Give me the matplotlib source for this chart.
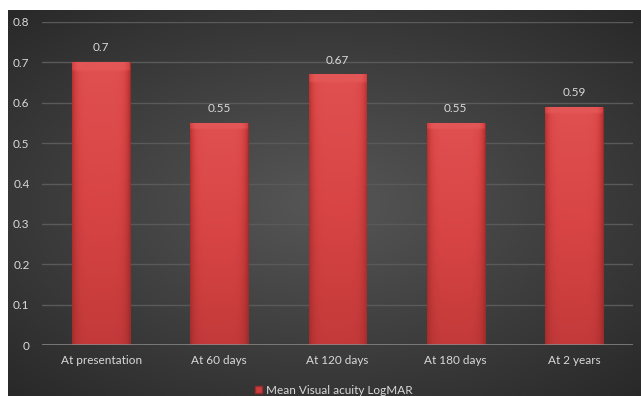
import numpy as np
import matplotlib
matplotlib.use("Agg")
import matplotlib.pyplot as plt
from matplotlib.colors import LinearSegmentedColormap
from matplotlib.patches import Patch

categories = ["At presentation", "At 60 days", "At 120 days", "At 180 days", "At 2 years"]
values = [0.7, 0.55, 0.67, 0.55, 0.59]
value_labels = ["0.7", "0.55", "0.67", "0.55", "0.59"]
yticks = [0, 0.1, 0.2, 0.3, 0.4, 0.5, 0.6, 0.7, 0.8]
ytick_labels = ["0", "0.1", "0.2", "0.3", "0.4", "0.5", "0.6", "0.7", "0.8"]
series_name = "Mean Visual acuity LogMAR"

W, H = 641, 396
fig = plt.figure(figsize=(W / 100, H / 100), dpi=100, facecolor="white")
plt.rcParams["font.family"] = ["Lato", "DejaVu Sans"]
text_color = "#d9d9d9"

# dark radial-gradient chart area
bg = fig.add_axes([8 / W, 0, 1 - 8 / W, (H - 10) / H])
bg.set_axis_off()
yy, xx = np.mgrid[-1:1:200j, -1:1:320j]
r = np.sqrt((xx * 0.95) ** 2 + yy ** 2)
shade = np.clip(0.34 - 0.13 * r, 0.12, 0.36)
bg.imshow(shade, cmap="gray", vmin=0, vmax=1, aspect="auto", extent=[0, 1, 0, 1],
          interpolation="bicubic")
bg.set_xlim(0, 1)
bg.set_ylim(0, 1)

ax = fig.add_axes([42 / W, 51 / H, (633 - 42) / W, (374 - 51) / H])
ax.set_facecolor("none")

for s in ax.spines.values():
    s.set_visible(False)
ax.set_yticks(yticks)
ax.set_yticklabels(ytick_labels)
ax.set_xticks(range(len(categories)))
ax.set_xticklabels(categories)
ax.tick_params(axis="both", length=0, colors=text_color, labelsize=8.5)
ax.tick_params(axis="y", pad=9)
ax.tick_params(axis="x", pad=7)

for y in yticks[1:]:
    ax.axhline(y, color="#5a5a5a", lw=1.0, zorder=1)
ax.axhline(0, color="#8c8c8c", lw=1.8, zorder=4)

bar_cmap = LinearSegmentedColormap.from_list(
    "barred", ["#8f2727", "#b83434", "#d84444", "#e45656"])
bw = 0.49
bars = ax.bar(range(len(values)), values, width=bw, color="#cc3d3d",
              edgecolor="#9a2c2c", linewidth=0.8, zorder=3)

# shaded fill inside each bar: darker sides and bottom, light bevel on top
gx = np.linspace(-1, 1, 60)
gy = np.linspace(0, 1, 100)[:, None]
edge = 1 - np.abs(gx)[None, :] ** 6
for b, v in zip(bars, values):
    img = (0.45 + 0.45 * gy) * (0.35 + 0.65 * edge)
    img[-3:, :] = np.minimum(img[-3:, :] + 0.25, 1)
    x0 = b.get_x()
    im = ax.imshow(img, cmap=bar_cmap, vmin=0, vmax=1, origin="lower",
                   extent=[x0, x0 + bw, 0, v], aspect="auto", zorder=3,
                   interpolation="bilinear")
    im.set_clip_path(b)

for i, (v, lab) in enumerate(zip(values, value_labels)):
    ax.text(i, v + 0.022, lab, ha="center", va="bottom", color=text_color,
            fontsize=8.5, zorder=5)

ax.set_xlim(-0.5, len(categories) - 0.5)
ax.set_ylim(0, 0.8)

fig.legend(handles=[Patch(facecolor="#cc3d3d", edgecolor="#9a2c2c", label=series_name)],
           loc="center", bbox_to_anchor=(334 / W, 1 - 390 / H), frameon=False,
           fontsize=8.5, handlelength=0.6, handleheight=0.6, handletextpad=0.3,
           labelcolor=text_color, borderpad=0)

fig.savefig("out.png", dpi=100, facecolor="white")
